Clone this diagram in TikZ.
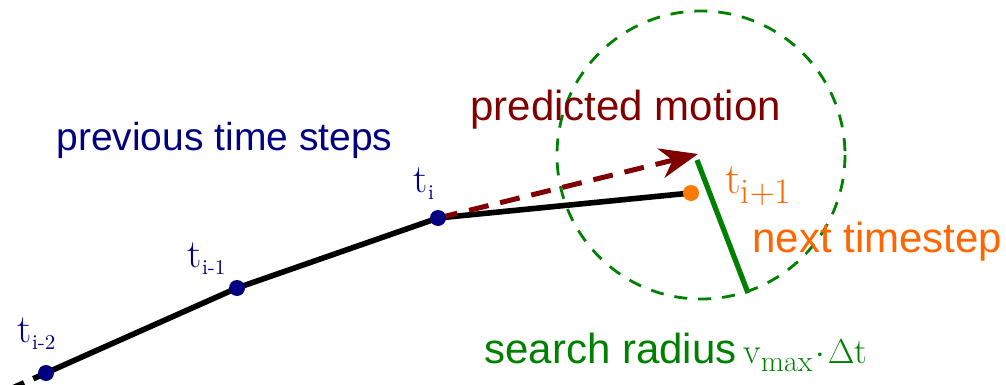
\documentclass[tikz,border=0pt]{standalone}
\usepackage{fontspec}
\setsansfont{Liberation Sans}
\usetikzlibrary{arrows.meta}
\definecolor{navy}{RGB}{0,0,128}
\definecolor{darkred}{RGB}{128,0,0}
\definecolor{orangetxt}{RGB}{255,102,0}
\definecolor{orangedot}{RGB}{255,120,0}
\definecolor{grn}{RGB}{0,128,0}
\newcommand{\tsmall}[1]{{\fontsize{20}{20}\selectfont t}\kern0.3pt\raisebox{-3.5pt}{\fontsize{10.5}{10.5}\selectfont #1}}
\begin{document}
\begin{tikzpicture}[x=0.5pt,y=-0.5pt,
  dot/.style={circle,fill=navy,inner sep=0pt,minimum size=8pt},
  lbl/.style={anchor=base west,inner sep=0pt,font=\sffamily\fontsize{21}{21}\selectfont},
  tlbl/.style={anchor=base west,inner sep=0pt,text=navy}]
\useasboundingbox (0,0) rectangle (1006,385);
% points
\coordinate (a) at (46,373);
\coordinate (b) at (237,288);
\coordinate (c) at (438,218);
\coordinate (d) at (691,193);
\coordinate (ctr) at (701,155);
\coordinate (tip) at (698,154);
\coordinate (ext) at (-12,399);
\coordinate (rad) at (748,293);
\coordinate (radstart) at (697,160);
% circle
\draw[grn,line width=1.4pt,dash pattern=on 6.5pt off 5.5pt] (ctr) circle[radius=144];
% black path
\draw[black,line width=2.8pt,dash pattern=on 7pt off 5pt] (a) -- (ext);
\draw[black,line width=2.8pt,line join=round] (a) -- (b) -- (c) -- (d);
% predicted arrow
\draw[darkred,line width=2.5pt,dash pattern=on 10pt off 6pt,
  -{Stealth[length=19pt,width=15pt,inset=6pt]}] (c) -- (tip);
% radius
\draw[grn,line width=2.6pt] (radstart) -- (rad);
% dots
\node[dot] (na) at (a) {};
\node[dot] (nb) at (b) {};
\node[dot] (nc) at (c) {};
\node[circle,fill=orangedot,inner sep=0pt,minimum size=8pt] (nd) at (d) {};
% labels
\node[tlbl] (la) at (17,342) {\tsmall{i-2}};
\node[tlbl] (lb) at (187,267) {\tsmall{i-1}};
\node[tlbl] (lc) at (413,192) {\tsmall{i}};
\node[anchor=base west,inner sep=0pt,text=orangetxt] (ld) at (725,193)
  {{\fontsize{22}{22}\selectfont t}\raisebox{-5pt}{\fontsize{18}{18}\selectfont i$+$1}};
\node[lbl,text=navy,font=\sffamily\fontsize{19.5}{19.5}\selectfont] (prev) at (56,150) {previous time steps};
\node[lbl,text=darkred] (pred) at (470,120) {predicted motion};
\node[lbl,text=orangetxt] (next) at (752,252) {next timestep};
\node[lbl,text=grn] (search) at (484,363) {search radius};
\node[anchor=base west,inner sep=0pt,text=grn] (vmax) at (743,363)
  {{\fontsize{18}{18}\selectfont v}\raisebox{-4pt}{\fontsize{15}{15}\selectfont max}\kern1.5pt{\fontsize{18}{18}\selectfont$\cdot$\kern1.5pt$\Delta$t}};
\end{tikzpicture}
\end{document}
